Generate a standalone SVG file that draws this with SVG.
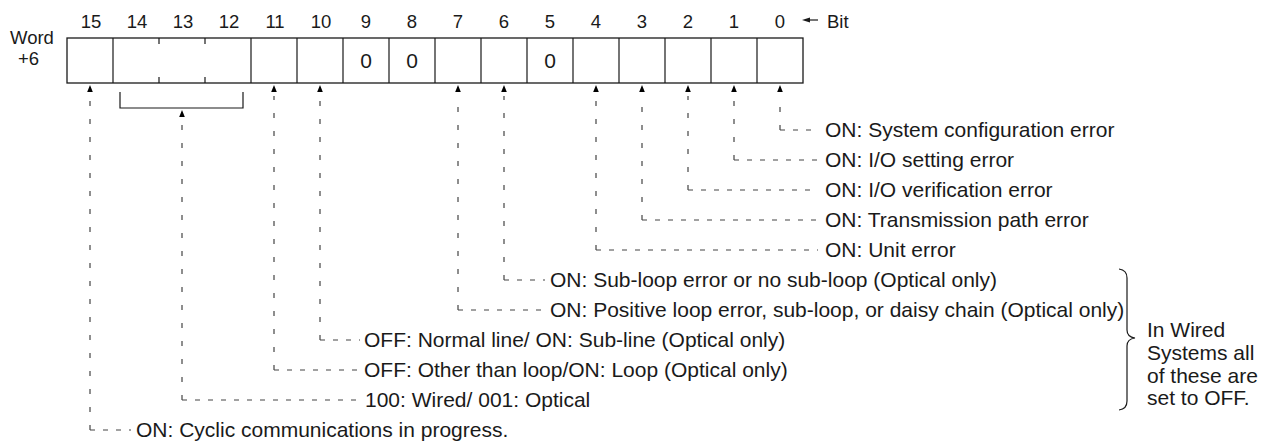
<svg xmlns="http://www.w3.org/2000/svg" width="1268" height="443" viewBox="0 0 1268 443">
<style>
text{font-family:"Liberation Sans",Arial,Helvetica,sans-serif;fill:#1a1a1a}
.num{font-size:18.5px;text-anchor:middle}
.lbl{font-size:21px}
.word{font-size:18.5px}
.zero{font-size:21px;text-anchor:middle}
.box{fill:#fff;stroke:#1a1a1a;stroke-width:1.3}
.cell{stroke:#1a1a1a;stroke-width:1.2}
.v{fill:none;stroke:#444;stroke-width:1.2;stroke-dasharray:5 13}
.h{fill:none;stroke:#444;stroke-width:1.2;stroke-dasharray:5 8}
.ah{fill:#1a1a1a}
.solid{fill:none;stroke:#1a1a1a;stroke-width:1.2}
</style>
<defs>
<path id="up" d="M0,0 L2.8,7 L-2.8,7 Z"/>
</defs>
<g id="word-label">
<text class="word" x="10" y="44">Word</text>
<text class="word" x="18" y="65">+6</text>
</g>
<g id="bit-numbers">
<text class="num" x="91" y="28">15</text>
<text class="num" x="137" y="28">14</text>
<text class="num" x="183" y="28">13</text>
<text class="num" x="229" y="28">12</text>
<text class="num" x="275" y="28">11</text>
<text class="num" x="321" y="28">10</text>
<text class="num" x="366" y="28">9</text>
<text class="num" x="412" y="28">8</text>
<text class="num" x="458" y="28">7</text>
<text class="num" x="504" y="28">6</text>
<text class="num" x="550" y="28">5</text>
<text class="num" x="596" y="28">4</text>
<text class="num" x="642" y="28">3</text>
<text class="num" x="688" y="28">2</text>
<text class="num" x="734" y="28">1</text>
<text class="num" x="780" y="28">0</text>
</g>
<g id="bit-marker">
<path class="ah" d="M802,20 L810,17.5 L810,22.5 Z"/>
<path class="solid" d="M808,20 H818"/>
<text class="word" x="827" y="28">Bit</text>
</g>
<g id="register">
<rect class="box" x="67" y="38" width="736" height="45"/>
<path class="cell" d="M113,38V83 M251,38V83 M297,38V83 M343,38V83 M389,38V83 M435,38V83 M481,38V83 M527,38V83 M573,38V83 M619,38V83 M665,38V83 M711,38V83 M757,38V83"/>
<path class="cell" d="M159,38V44 M205,38V44 M159,77V83 M205,77V83"/>
<text class="zero" x="366" y="68">0</text>
<text class="zero" x="412" y="68">0</text>
<text class="zero" x="550" y="68">0</text>
</g>
<g id="bracket">
<path class="solid" d="M120,92 V108 H243 V92"/>
</g>
<g id="connectors">
<use href="#up" x="90" y="85"/>
<use href="#up" x="274" y="85"/>
<use href="#up" x="320" y="85"/>
<use href="#up" x="458" y="85"/>
<use href="#up" x="504" y="85"/>
<use href="#up" x="596" y="85"/>
<use href="#up" x="642" y="85"/>
<use href="#up" x="688" y="85"/>
<use href="#up" x="734" y="85"/>
<use href="#up" x="780" y="85"/>
<use href="#up" x="182" y="110"/>
<path class="v" d="M780,130 V96"/><path class="h" d="M780,130 H818"/>
<path class="v" d="M734,160 V96"/><path class="h" d="M734,160 H818"/>
<path class="v" d="M688,190 V96"/><path class="h" d="M688,190 H818"/>
<path class="v" d="M642,220 V96"/><path class="h" d="M642,220 H818"/>
<path class="v" d="M596,250 V96"/><path class="h" d="M596,250 H818"/>
<path class="v" d="M504,280 V96"/><path class="h" d="M504,280 H545"/>
<path class="v" d="M458,310 V96"/><path class="h" d="M458,310 H545"/>
<path class="v" d="M320,340 V96"/><path class="h" d="M320,340 H360"/>
<path class="v" d="M274,370 V96"/><path class="h" d="M274,370 H360"/>
<path class="v" d="M182,400 V121"/><path class="h" d="M182,400 H360"/>
<path class="v" d="M90,430 V96"/><path class="h" d="M90,430 H131"/>
</g>
<g id="label-bit0"><text class="lbl" x="825" y="137">ON: System configuration error</text></g>
<g id="label-bit1"><text class="lbl" x="825" y="167">ON: I/O setting error</text></g>
<g id="label-bit2"><text class="lbl" x="825" y="197">ON: I/O verification error</text></g>
<g id="label-bit3"><text class="lbl" x="825" y="227">ON: Transmission path error</text></g>
<g id="label-bit4"><text class="lbl" x="825" y="257">ON: Unit error</text></g>
<g id="label-bit6"><text class="lbl" x="550" y="287">ON: Sub-loop error or no sub-loop (Optical only)</text></g>
<g id="label-bit7"><text class="lbl" x="550" y="317">ON: Positive loop error, sub-loop, or daisy chain (Optical only)</text></g>
<g id="label-bit10"><text class="lbl" x="364" y="347">OFF: Normal line/ ON: Sub-line (Optical only)</text></g>
<g id="label-bit11"><text class="lbl" x="364" y="377">OFF: Other than loop/ON: Loop (Optical only)</text></g>
<g id="label-bit12-14"><text class="lbl" x="365" y="407">100: Wired/ 001: Optical</text></g>
<g id="label-bit15"><text class="lbl" x="136" y="437">ON: Cyclic communications in progress.</text></g>
<g id="brace-note">
<path class="solid" d="M1119,269 Q1127,270 1127,278 V330 Q1127,337 1135,338 Q1127,339 1127,346 V401 Q1127,409 1119,410"/>
<text class="lbl" x="1147" y="337">In Wired</text>
<text class="lbl" x="1147" y="360">Systems all</text>
<text class="lbl" x="1147" y="383">of these are</text>
<text class="lbl" x="1147" y="405">set to OFF.</text>
</g>
</svg>
